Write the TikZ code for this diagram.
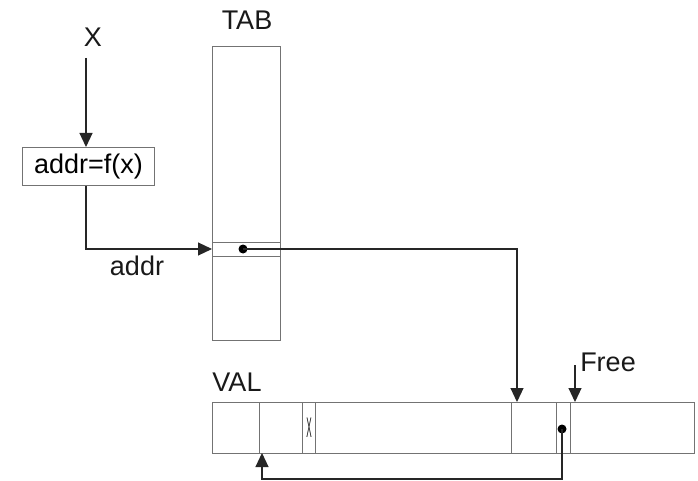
\documentclass[tikz,border=0pt]{standalone}
\usepackage{fontspec}
\setmainfont{Liberation Sans}
\usetikzlibrary{arrows.meta,calc}
\tikzset{
  lbl/.style={inner sep=0pt, font=\fontsize{27}{32}\selectfont, text=black!90},
  cellbox/.style={draw=black!55, line width=0.9pt, inner sep=0pt, anchor=north west},
  conn/.style={draw=black!85, line width=1.1pt},
  arr/.style={conn, -{Triangle[length=14pt,width=13pt]}},
  ptrdot/.style={circle, fill=black, inner sep=0pt, minimum size=9pt}
}
\begin{document}
\begin{tikzpicture}[x=1pt,y=-1pt]
\useasboundingbox[fill=white] (0,0) rectangle (698,481);
% texts
\node[lbl] (X) at (93,37) {X};
\node[lbl] (tabl) at (247,20) {TAB};
\node[lbl] (addrl) at (137,266) {addr};
\node[lbl] (vall) at (237,382) {VAL};
\node[lbl] (freel) at (608,362) {Free};
% hash box
\node[cellbox, minimum width=132pt, minimum height=38pt, font=\fontsize{27}{32}\selectfont] (f) at (22,147) {addr=f(x)};
% TAB
\node[cellbox, minimum width=68pt, minimum height=294pt] (tab) at (212,46) {};
\node[cellbox, minimum width=68pt, minimum height=14pt] (slot) at (212,242) {};
\node[ptrdot] (d1) at (243,249) {};
% VAL cells
\node[cellbox, minimum width=47pt, minimum height=51pt] (c1) at (212,402) {};
\node[cellbox, minimum width=43pt, minimum height=51pt] (c2) at (259,402) {};
\node[cellbox, minimum width=13pt, minimum height=51pt] (c3) at (302,402) {};
\node[cellbox, minimum width=196pt, minimum height=51pt] (c4) at (315,402) {};
\node[cellbox, minimum width=45pt, minimum height=51pt] (c5) at (511,402) {};
\node[cellbox, minimum width=14pt, minimum height=51pt] (c6) at (556,402) {};
\node[cellbox, minimum width=124pt, minimum height=51pt] (c7) at (570,402) {};
\node[lbl] (smallx) at (c3.center) {\scalebox{0.3}[1.05]{X}};
\node[ptrdot] (d2) at (562,429) {};
% coordinates
\coordinate (xtop) at (86,58);
\coordinate (turn1) at (86,249);
\coordinate (turn2) at (517,249);
\coordinate (valtop) at (517,402);
\coordinate (freetop) at (575,365);
\coordinate (freebot) at (575,402);
\coordinate (low1) at (562,479);
\coordinate (low2) at (262,479);
\coordinate (c2bot) at (262,453);
% connectors
\draw[arr] (xtop) -- (xtop |- f.north);
\draw[arr] (xtop |- f.south) -- (turn1) -- (slot.west |- turn1);
\draw[arr] (d1.center) -- (turn2) -- (valtop);
\draw[arr] (freetop) -- (freebot);
\draw[arr] (d2.center) -- (low1) -- (low2) -- (c2bot);
\end{tikzpicture}
\end{document}
